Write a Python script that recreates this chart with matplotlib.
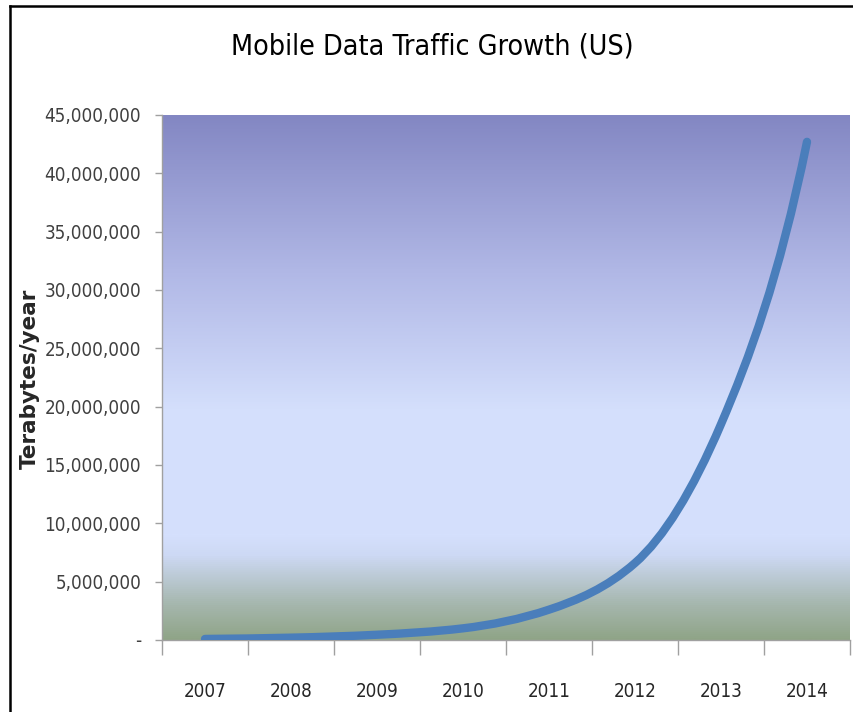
"""
Mobile data traffic growth (US), Excel-style chart.
"""

import numpy as np
import matplotlib
matplotlib.use("Agg")
import matplotlib.pyplot as plt
from matplotlib.path import Path
from matplotlib.patches import PathPatch
from matplotlib.colors import LinearSegmentedColormap
from matplotlib.ticker import FuncFormatter

years = ["2007", "2008", "2009", "2010", "2011", "2012", "2013", "2014"]
traffic_tb = [90000, 200000, 450000, 1000000, 2600000, 6600000, 18500000, 42700000]

title = "Mobile Data Traffic Growth (US)"
ylabel = "Terabytes/year"

plt.rcParams["font.family"] = ["DejaVu Sans"]
plt.rcParams["font.stretch"] = "condensed"

fig = plt.figure(figsize=(8.54, 7.12), dpi=100)
ax = fig.add_axes([162 / 854, 72 / 712, 688 / 854, 525 / 712])

# background gradient of the plot area (bottom -> top)
bg = LinearSegmentedColormap.from_list("bg", [
    (0.00, "#8fa487"),
    (0.07, "#a7b8b0"),
    (0.16, "#cdd9f4"),
    (0.20, "#d5e0fd"),
    (0.44, "#d4dffc"),
    (0.70, "#b1b8e6"),
    (1.00, "#8387c3"),
])
grad = np.linspace(0, 1, 512).reshape(-1, 1)
ax.imshow(grad, cmap=bg, origin="lower", aspect="auto",
          extent=[0, 1, 0, 1], transform=ax.transAxes, zorder=0)

# smoothed line: cubic Hermite segments, slopes taken in log space
x = np.arange(len(years), dtype=float)
y = np.array(traffic_tb, dtype=float)
ly = np.log(y)
n = len(x)
slope = np.empty(n)
for i in range(n):
    a, b = max(i - 1, 0), min(i + 1, n - 1)
    slope[i] = y[i] * (ly[b] - ly[a]) / (x[b] - x[a])
verts = [(x[0], y[0])]
codes = [Path.MOVETO]
for i in range(n - 1):
    verts += [(x[i] + 1 / 3, y[i] + slope[i] / 3),
              (x[i + 1] - 1 / 3, y[i + 1] - slope[i + 1] / 3),
              (x[i + 1], y[i + 1])]
    codes += [Path.CURVE4] * 3
ax.add_patch(PathPatch(Path(verts, codes), facecolor="none", edgecolor="#4a7ebb",
                       lw=6, capstyle="round", joinstyle="round", zorder=3))

ax.set_xlim(-0.5, n - 0.5)
ax.set_ylim(0, 45000000)

ax.set_yticks(np.arange(0, 45000001, 5000000))
ax.yaxis.set_major_formatter(FuncFormatter(lambda v, p: "-" if v == 0 else f"{int(v):,}"))
ax.tick_params(axis="y", direction="out", length=5, width=1, color="#a0a0a0",
               labelsize=13.5, labelcolor="#404040", pad=10)

ax.set_xticks(np.arange(-0.5, n, 1.0))
ax.set_xticklabels([])
ax.tick_params(axis="x", direction="out", length=11, width=1, color="#a0a0a0")
ax.set_xticks(x, minor=True)
ax.set_xticklabels(years, minor=True)
ax.tick_params(axis="x", which="minor", length=0, labelsize=13.5,
               labelcolor="#262626", pad=30)

for side in ["top", "right"]:
    ax.spines[side].set_visible(False)
for side in ["left", "bottom"]:
    ax.spines[side].set_color("#a0a0a0")
    ax.spines[side].set_linewidth(1)
ax.spines["left"].set_zorder(4)

fig.text(432 / 854, 1 - 47 / 712, title, ha="center", va="center",
         fontsize=20.5, color="black")
fig.text(30 / 854, 1 - 379 / 712, ylabel, ha="center", va="center", rotation=90,
         fontsize=15.5, fontweight="bold", color="#262626", fontstretch="normal")

# outer frame lines (left and top)
fig.add_artist(plt.Line2D([10 / 854, 10 / 854], [0, 1 - 6 / 712], color="black", lw=1.8))
fig.add_artist(plt.Line2D([10 / 854, 853 / 854], [1 - 6 / 712, 1 - 6 / 712], color="black", lw=1.8))

fig.savefig("out.png", dpi=100)
